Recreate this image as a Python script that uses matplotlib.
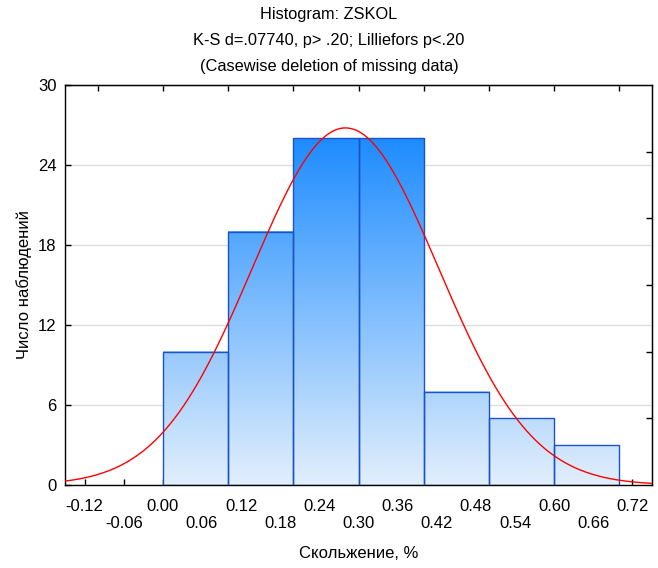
import numpy as np
import matplotlib.pyplot as plt
from matplotlib.colors import LinearSegmentedColormap

plt.rcParams['font.family'] = ['Liberation Sans', 'DejaVu Sans']

# границы интервалов и частоты
bin_edges = [0.0, 0.1, 0.2, 0.3, 0.4, 0.5, 0.6, 0.7]
counts = [10, 19, 26, 26, 7, 5, 3]

# параметры нормальной кривой
mean = 0.28
sd = 0.143

xticks = [-0.12, -0.06, 0.00, 0.06, 0.12, 0.18, 0.24, 0.30, 0.36, 0.42, 0.48, 0.54, 0.60, 0.66, 0.72]
yticks = [0, 6, 12, 18, 24, 30]

title_lines = ['Histogram: ZSKOL',
               'K-S d=.07740, p> .20; Lilliefors p<.20',
               '(Casewise deletion of missing data)']

fig = plt.figure(figsize=(6.58, 5.68), dpi=100)
ax = fig.add_axes([65/658, 1 - 485/568, 587/658, 400/568])

cmap = LinearSegmentedColormap.from_list('bars', ['#E2EFFC', '#1E8CFF'])
vmax = max(counts)

for i in range(len(counts)):
  x0 = bin_edges[i]
  x1 = bin_edges[i + 1]
  h = counts[i]
  grad = np.linspace(h, 0, 256)[:, None]
  ax.imshow(grad, extent=[x0, x1, 0, h], aspect='auto', cmap=cmap,
            vmin=0, vmax=vmax, origin='upper', zorder=2, interpolation='bilinear')
  ax.bar(x0, h, width=x1 - x0, align='edge', facecolor='none',
         edgecolor='#1A52C8', linewidth=1.0, zorder=3)

# нормальная кривая
n = sum(counts)
bw = bin_edges[1] - bin_edges[0]
xx = np.linspace(-0.15, 0.75, 400)
yy = n * bw / (sd * np.sqrt(2 * np.pi)) * np.exp(-(xx - mean)**2 / (2 * sd**2))
ax.plot(xx, yy, color='#FF0000', linewidth=1.0, zorder=4)

ax.set_xlim(-0.15, 0.75)
ax.set_ylim(0, 30)

labels = []
for i, t in enumerate(xticks):
  s = f'{t:.2f}'
  if i % 2 == 1:
    s = '\n' + s
  labels.append(s)
ax.set_xticks(xticks)
ax.set_xticklabels(labels)
for lbl in ax.get_xticklabels():
  lbl.set_linespacing(1.15)
ax.set_yticks(yticks)
ax.tick_params(axis='both', direction='in', length=4, width=1, labelsize=12, colors='black')
ax.tick_params(axis='x', pad=10)
ax.tick_params(axis='y', pad=6)

# верхняя и правая оси
top = ax.secondary_xaxis('top')
top.set_xticks([-0.1, 0.0, 0.1, 0.2, 0.3, 0.4, 0.5, 0.6, 0.7])
top.tick_params(direction='in', length=4, width=1, labeltop=False)
right = ax.secondary_yaxis('right')
right.set_yticks([5, 10, 15, 20, 25])
right.tick_params(direction='in', length=4, width=1, labelright=False)

ax.yaxis.grid(True, color='#DDDDDD', linewidth=1.0, zorder=0)
ax.set_axisbelow(True)
for sp in ax.spines.values():
  sp.set_linewidth(1.0)
  sp.set_color('black')

ax.set_xlabel('Скольжение, %', fontsize=12, labelpad=11)
ax.set_ylabel('Число наблюдений', fontsize=12, labelpad=4)

for k, line in enumerate(title_lines):
  fig.text(0.5, 1 - (15 + 25.5 * k) / 568, line, ha='center', va='center', fontsize=11.8)

fig.savefig('out.png', dpi=100)
